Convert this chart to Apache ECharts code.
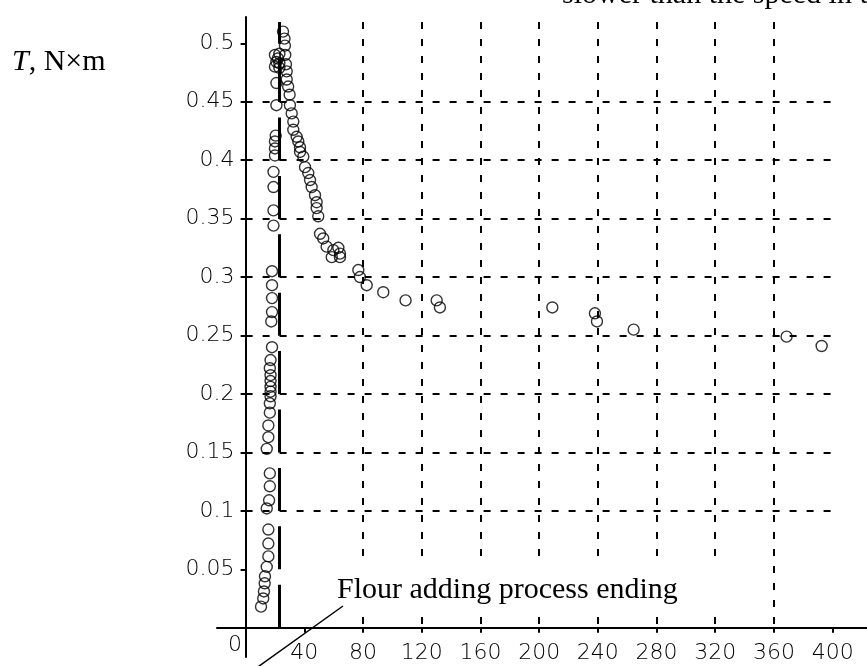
<!DOCTYPE html>
<html>
<head>
<meta charset="utf-8">
<script src="https://cdn.jsdelivr.net/npm/echarts@6/dist/echarts.min.js"></script>
<style>
  html, body { margin: 0; padding: 0; background: #fff; }
  #chart { width: 867px; height: 666px; }
</style>
</head>
<body>
<div id="chart"></div>
<script>
// torque T (N*m) versus time, two phases
var addingPhase = [
    [10.5, 0.018], [12, 0.025], [12.5, 0.031], [13, 0.038], [13.2, 0.044], [14.4, 0.052],
    [15.5, 0.061], [15.5, 0.072], [15.5, 0.084], [14.4, 0.102], [16, 0.109], [16.5, 0.121],
    [16.5, 0.132], [14.4, 0.153], [15.5, 0.163], [15.5, 0.173], [16.5, 0.184], [16.5, 0.192],
    [17, 0.198], [17, 0.202], [17, 0.206], [17, 0.211], [17, 0.216], [16.5, 0.222],
    [17, 0.229], [18, 0.240], [17.5, 0.262], [18, 0.270], [18, 0.282], [18, 0.293],
    [18, 0.305], [19, 0.344], [19, 0.357], [19, 0.377], [19, 0.390], [20, 0.404],
    [20, 0.410], [20, 0.416], [20.5, 0.421], [21, 0.447], [21, 0.466], [20, 0.480],
    [21, 0.484], [20, 0.490], [22, 0.487], [23, 0.491], [23, 0.483], [23, 0.479]
];
var kneadingPhase = [
    [25.5, 0.510], [26.5, 0.504], [26.8, 0.498], [27, 0.490], [27.5, 0.482], [28, 0.476],
    [28, 0.469], [29, 0.463], [30, 0.456], [30.2, 0.447], [31.4, 0.440], [32.5, 0.433],
    [32.5, 0.426], [34.8, 0.420], [35.9, 0.416], [37.1, 0.411], [37.1, 0.407], [39.3, 0.403],
    [40.5, 0.394], [42.7, 0.389], [43.9, 0.383], [45, 0.377], [47.3, 0.370], [48.4, 0.364],
    [48.4, 0.359], [49.5, 0.352], [50.7, 0.337], [52.9, 0.333], [55.2, 0.326], [59.8, 0.323],
    [63.2, 0.325], [64.3, 0.320], [58.7, 0.317], [64.3, 0.317], [76.8, 0.306], [77.9, 0.300],
    [82.5, 0.293], [93.8, 0.287], [109, 0.280], [130.2, 0.280], [132.4, 0.274], [209, 0.274],
    [238, 0.269], [239.4, 0.262], [264.4, 0.255], [368.6, 0.249], [392.5, 0.241]
];
var xTicks = [40, 80, 120, 160, 200, 240, 280, 320, 360, 400];
var yTicks = [0.05, 0.1, 0.15, 0.2, 0.25, 0.3, 0.35, 0.4, 0.45, 0.5];
var flourEnd = 23;

var labelFont = { fontFamily: 'DejaVu Sans', fontWeight: 200, fontSize: 22, color: '#000' };
var dashed = { color: '#000', width: 2, type: [7, 10] };
var ring = { color: 'rgba(0,0,0,0)', borderColor: '#000', borderWidth: 1.4 };

var myChart = echarts.init(document.getElementById('chart'));
var option = {
    animation: false,
    backgroundColor: '#fff',
    grid: [
        { left: 245.6, right: 27, top: 22, bottom: 38.3 },
        // only for the long axis lines crossing at the origin
        { left: 217, right: 0, top: 17, bottom: 9 }
    ],
    xAxis: [{
        type: 'value', gridIndex: 0, min: 0, max: 405, interval: 40,
        axisLine: { show: false },
        axisTick: { show: true, length: 5, customValues: xTicks, lineStyle: { color: '#000', width: 2 } },
        axisLabel: Object.assign({ margin: 15, customValues: xTicks }, labelFont),
        splitLine: { show: true, showMinLine: false, showMaxLine: false, lineStyle: dashed }
    }, {
        type: 'value', gridIndex: 1, min: -19.5, max: 423.3,
        axisLine: { show: true, onZero: true, lineStyle: { color: '#000', width: 2 } },
        axisTick: { show: false }, axisLabel: { show: false }, splitLine: { show: false }
    }],
    yAxis: [{
        type: 'value', gridIndex: 0, min: 0, max: 0.5182, interval: 0.05,
        axisLine: { show: false },
        axisTick: { show: true, length: 5, customValues: yTicks, lineStyle: { color: '#000', width: 2 } },
        axisLabel: Object.assign({ margin: 11, customValues: yTicks }, labelFont),
        splitLine: { show: true, showMinLine: false, showMaxLine: false, lineStyle: dashed }
    }, {
        type: 'value', gridIndex: 1, min: -0.0251, max: 0.5225,
        axisLine: { show: true, onZero: true, lineStyle: { color: '#000', width: 2 } },
        axisTick: { show: false }, axisLabel: { show: false }, splitLine: { show: false }
    }],
    series: [{
        name: 'adding',
        type: 'scatter',
        xAxisIndex: 0, yAxisIndex: 0,
        symbol: 'circle', symbolSize: 11,
        itemStyle: ring,
        emphasis: { disabled: true },
        data: addingPhase,
        markLine: {
            silent: true,
            symbol: 'none',
            label: { show: false },
            lineStyle: { color: '#000', width: 3, type: [43, 15.4] },
            data: [{ xAxis: flourEnd }]
        }
    }, {
        name: 'kneading',
        type: 'scatter',
        xAxisIndex: 0, yAxisIndex: 0,
        symbol: 'circle', symbolSize: 11,
        itemStyle: ring,
        emphasis: { disabled: true },
        data: kneadingPhase
    }],
    graphic: [
        {   // white box behind the note
            type: 'rect', z: 100,
            shape: { x: 308, y: 557, width: 457, height: 60 },
            style: { fill: '#fff' }
        },
        {
            type: 'text', z: 101, x: 337, y: 590,
            style: {
                text: 'Flour adding process ending',
                font: '30px "Liberation Serif"', fill: '#000', verticalAlign: 'middle'
            }
        },
        {
            type: 'line', z: 101,
            shape: { x1: 343, y1: 606, x2: 255, y2: 669 },
            style: { stroke: '#000', lineWidth: 1.5 }
        },
        {
            type: 'text', z: 101, x: 12, y: 62,
            style: {
                text: '{i|T}, N×m',
                font: '30px "Liberation Serif"', fill: '#000', verticalAlign: 'middle',
                rich: { i: { fontStyle: 'italic', fontFamily: 'Liberation Serif', fontSize: 30 } }
            }
        },
        {
            type: 'text', z: 101, x: 562, y: -5,
            style: {
                text: 'slower than the speed in the',
                font: '30px "Liberation Serif"', fill: '#000', verticalAlign: 'middle'
            }
        },
        {
            type: 'text', z: 101, x: 228, y: 645,
            style: {
                text: '0', font: '200 22px "DejaVu Sans"', fill: '#000', verticalAlign: 'middle'
            }
        }
    ]
};
myChart.setOption(option);
</script>
</body>
</html>
